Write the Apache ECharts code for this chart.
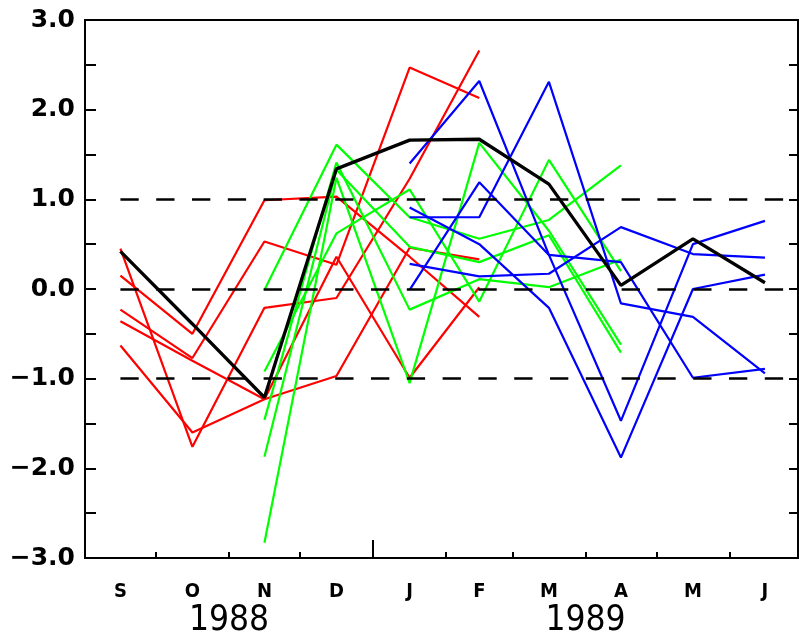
<!DOCTYPE html>
<html>
<head>
<meta charset="utf-8">
<style>
  html, body { margin: 0; padding: 0; background: #fff; }
  #chart { width: 799px; height: 635px; }
</style>
<script src="https://cdn.jsdelivr.net/npm/echarts@6/dist/echarts.min.js"></script>
</head>
<body>
<div id="chart"></div>
<script>
// Monthly anomalies, Sep 1988 - Jun 1989, plotted at mid-month.
const monthLetters = ['S', 'O', 'N', 'D', 'J', 'F', 'M', 'A', 'M', 'J'];
const monthMid = [
  '1988-09-16T00:00:00Z', '1988-10-16T12:00:00Z', '1988-11-16T00:00:00Z',
  '1988-12-16T12:00:00Z', '1989-01-16T12:00:00Z', '1989-02-15T00:00:00Z',
  '1989-03-16T12:00:00Z', '1989-04-16T00:00:00Z', '1989-05-16T12:00:00Z',
  '1989-06-16T00:00:00Z'
];
const monthStarts = [
  '1988-10-01T00:00:00Z', '1988-11-01T00:00:00Z', '1988-12-01T00:00:00Z',
  '1989-01-01T00:00:00Z', '1989-02-01T00:00:00Z', '1989-03-01T00:00:00Z',
  '1989-04-01T00:00:00Z', '1989-05-01T00:00:00Z', '1989-06-01T00:00:00Z'
];
const axisStart = '1988-09-01T00:00:00Z';
const axisEnd = '1989-06-30T00:00:00Z';
const yearBoundary = ['1989-01-01T00:00:00Z'];
const yearNames = ['1988', '1989'];
const yTickLabels = [-3, -2, -1, 0, 1, 2, 3];
const refLevels = [-1, 0, 1];

// Red members: Sep - Feb
const red1 = [0.15, -0.50, 0.99, 1.03, 0.36, -0.31];
const red2 = [-0.23, -0.77, 0.53, 0.27, 2.47, 2.13];
const red3 = [0.45, -1.76, -0.21, -0.10, 1.23, 2.66];
const red4 = [-0.63, -1.60, -1.23, -0.97, 0.46, 0.33];
const red5 = [-0.36, -0.80, -1.23, 0.36, -0.99, 0.02];
// Green members: Nov - Apr
const green1 = [-0.01, 1.61, 0.80, 0.56, 0.77, 1.38];
const green2 = [-0.92, 0.62, 1.11, -0.14, 1.44, 0.20];
const green3 = [-1.46, 1.41, -0.23, 0.11, 0.02, 0.33];
const green4 = [-1.87, 1.33, 0.47, 0.30, 0.60, -0.71];
const green5 = [-2.83, 1.24, -1.05, 1.63, 0.65, -0.62];
// Blue members: Jan - Jun
const blue1 = [1.40, 2.32, 0.38, -1.47, 0.50, 0.76];
const blue2 = [-0.01, 1.19, 0.38, 0.30, -0.99, -0.89];
const blue3 = [0.80, 0.80, 2.31, -0.16, -0.31, -0.94];
const blue4 = [0.91, 0.50, -0.21, -1.88, 0.00, 0.16];
const blue5 = [0.28, 0.14, 0.17, 0.69, 0.39, 0.35];
// Ensemble mean: Sep - Jun
const meanLine = [0.42, -0.39, -1.21, 1.34, 1.66, 1.67, 1.17, 0.04, 0.56, 0.07];

// Time positions in days since the start of the axis
const DAY = 86400000;
const tMin = Date.parse(axisStart);
const d = s => (Date.parse(s) - tMin) / DAY;
const midDays = monthMid.map(d);
const dMax = d(axisEnd), dYear = d(yearBoundary[0]);
const yearCentres = [dYear / 2, (dYear + dMax) / 2];

function toPoints(values, firstMonth) {
  return values.map((v, i) => [midDays[firstMonth + i], v]);
}
function member(values, firstMonth, color) {
  return {
    type: 'line', data: toPoints(values, firstMonth), xAxisIndex: 0, yAxisIndex: 0,
    symbol: 'none', silent: true, animation: false,
    lineStyle: { color: color, width: 2.2 }
  };
}

const series = [];
[red1, red2, red3, red4, red5].forEach(v => series.push(member(v, 0, '#ff0000')));
[green1, green2, green3, green4, green5].forEach(v => series.push(member(v, 2, '#00ff00')));
[blue1, blue2, blue3, blue4, blue5].forEach(v => series.push(member(v, 4, '#0000ff')));
series.push({
  type: 'line', data: toPoints(meanLine, 0), xAxisIndex: 0, yAxisIndex: 0,
  symbol: 'none', silent: true, animation: false, z: 5,
  lineStyle: { color: '#000', width: 3.3 },
  // dashed reference levels, running from the first month to the right edge
  markLine: {
    silent: true, symbol: 'none', animation: false, label: { show: false },
    lineStyle: { color: '#000', width: 2.5, type: [18.3, 17.5], dashOffset: 0 },
    data: refLevels.map(v => [{ coord: [midDays[0], v] }, { coord: [dMax, v] }])
  }
});

const fmtY = v => (v < 0 ? '\u2212' : '') + Math.abs(v).toFixed(1);
const axisLineStyle = { color: '#000', width: 2 };
const near = (arr, v) => arr.findIndex(a => Math.abs(a - v) < 1e-6);

const option = {
  animation: false,
  backgroundColor: '#fff',
  grid: {
    left: 85, right: 1, top: 20, bottom: 77, containLabel: false, outerBoundsMode: 'none',
    show: true, borderColor: '#000', borderWidth: 2
  },
  xAxis: [
    {
      type: 'value', min: 0, max: dMax, position: 'bottom',
      axisLine: { show: true, onZero: false, lineStyle: axisLineStyle },
      axisTick: { show: true, inside: true, length: 6, lineStyle: { color: '#000', width: 2 },
                  customValues: monthStarts.map(d) },
      axisLabel: {
        show: true, customValues: midDays, margin: 24,
        fontFamily: 'DejaVu Sans Condensed, DejaVu Sans, sans-serif',
        fontWeight: 'bold', fontSize: 20, color: '#000',
        formatter: v => monthLetters[near(midDays, v)] || ''
      },
      splitLine: { show: false }
    },
    {
      type: 'value', min: 0, max: dMax, position: 'bottom',
      axisLine: { show: false, onZero: false },
      axisTick: { show: true, inside: true, length: 18, lineStyle: { color: '#000', width: 2 },
                  customValues: yearBoundary.map(d) },
      axisLabel: {
        show: true, customValues: yearCentres, margin: 45,
        fontFamily: 'DejaVu Sans Condensed, DejaVu Sans, sans-serif',
        fontSize: 35, color: '#000',
        formatter: v => yearNames[near(yearCentres, v)] || ''
      },
      splitLine: { show: false }
    }
  ],
  yAxis: [
    {
      type: 'value', min: -3, max: 3, interval: 0.5, position: 'left',
      axisLine: { show: true, onZero: false, lineStyle: axisLineStyle },
      axisTick: { show: true, inside: true, length: 11, lineStyle: { color: '#000', width: 2 } },
      axisLabel: {
        show: true, customValues: yTickLabels, margin: 10, formatter: fmtY,
        fontFamily: 'DejaVu Sans, sans-serif', fontWeight: 'bold', fontSize: 25, color: '#000'
      },
      splitLine: { show: false }
    },
    {
      type: 'value', min: -3, max: 3, interval: 0.5, position: 'right',
      axisLine: { show: true, onZero: false, lineStyle: axisLineStyle },
      axisTick: { show: true, inside: true, length: 9, lineStyle: { color: '#000', width: 2 } },
      axisLabel: { show: false },
      splitLine: { show: false }
    }
  ],
  series: series
};

const chart = echarts.init(document.getElementById('chart'), null, { renderer: 'canvas' });
chart.setOption(option);
</script>
</body>
</html>
